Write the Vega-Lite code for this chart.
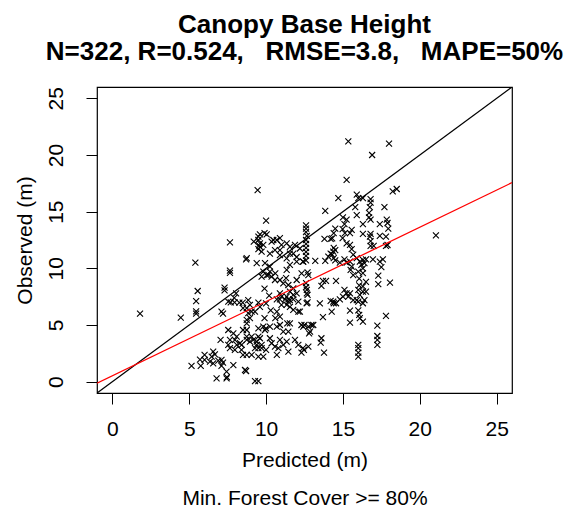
{
"$schema": "https://vega.github.io/schema/vega-lite/v6.json",
"width": 415, "height": 306,
"autosize": {"type": "none"},
"padding": {"left": 97, "top": 87, "right": 62, "bottom": 119},
"background": "white",
"config": {"font": "Liberation Sans", "view": {"stroke": "#000", "strokeWidth": 1.2}},
"title": {"text": ["Canopy Base Height", "N=322, R=0.524,\u00a0\u00a0\u00a0RMSE=3.8,\u00a0\u00a0\u00a0MAPE=50%"], "fontSize": 26, "fontWeight": "bold", "font": "Liberation Sans", "color": "#000", "lineHeight": 27, "anchor": "middle", "baseline": "bottom", "offset": -4},
"datasets": {
"pts": [
{"pred":1.8,"obs":6.0},{"pred":4.45,"obs":5.65},{"pred":5.4,"obs":10.5},{"pred":5.55,"obs":8.0},{"pred":5.45,"obs":7.1},{"pred":5.45,"obs":6.2},{"pred":5.45,"obs":6.0},
{"pred":5.15,"obs":1.4},{"pred":5.75,"obs":1.4},{"pred":6.0,"obs":2.36},{"pred":6.0,"obs":1.92},{"pred":5.7,"obs":1.95},{"pred":6.35,"obs":1.77},{"pred":6.46,"obs":2.2},{"pred":6.56,"obs":2.65},{"pred":6.67,"obs":2.4},{"pred":6.89,"obs":1.85},{"pred":7.1,"obs":1.92},{"pred":7.2,"obs":1.68},{"pred":6.56,"obs":1.62},{"pred":7.1,"obs":1.4},{"pred":7.87,"obs":1.45},{"pred":6.78,"obs":0.3},{"pred":7.43,"obs":0.3},{"pred":7.45,"obs":0.4},{"pred":7.43,"obs":0.88},{"pred":8.63,"obs":1.03},{"pred":8.7,"obs":0.94},{"pred":9.28,"obs":0.05},{"pred":9.5,"obs":0.05},
{"pred":7.65,"obs":12.3},{"pred":8.7,"obs":10.8},{"pred":7.65,"obs":9.8},{"pred":7.65,"obs":9.6},{"pred":7.3,"obs":8.3},{"pred":7.3,"obs":8.05},{"pred":8.05,"obs":7.8},{"pred":7.93,"obs":7.4},{"pred":7.1,"obs":6.18},{"pred":7.2,"obs":6.0},{"pred":7.54,"obs":7.06},{"pred":7.7,"obs":7.0},{"pred":7.95,"obs":7.0},{"pred":8.26,"obs":6.97},{"pred":8.48,"obs":6.97},{"pred":8.74,"obs":6.48},{"pred":8.84,"obs":6.04},{"pred":8.95,"obs":5.6},{"pred":8.74,"obs":5.45},{"pred":8.5,"obs":6.48},{"pred":8.84,"obs":7.2},{"pred":8.95,"obs":6.77},
{"pred":7.54,"obs":4.56},{"pred":7.87,"obs":4.27},{"pred":7.04,"obs":3.68},{"pred":7.65,"obs":3.68},{"pred":7.97,"obs":3.68},{"pred":8.3,"obs":3.39},{"pred":8.74,"obs":3.68},{"pred":7.65,"obs":2.95},{"pred":7.97,"obs":2.8},{"pred":8.4,"obs":2.8},{"pred":8.5,"obs":2.36},{"pred":8.74,"obs":2.36},{"pred":9.06,"obs":2.36},{"pred":9.5,"obs":2.2},{"pred":9.82,"obs":2.2},{"pred":10.0,"obs":2.8},{"pred":8.74,"obs":3.97},{"pred":9.06,"obs":3.97},{"pred":9.5,"obs":3.97},{"pred":8.09,"obs":3.97},{"pred":8.5,"obs":4.56},{"pred":8.74,"obs":5.15},{"pred":8.74,"obs":4.56},{"pred":8.95,"obs":3.53},{"pred":9.17,"obs":3.68},{"pred":9.82,"obs":4.85},{"pred":9.93,"obs":4.56},{"pred":9.39,"obs":3.24},{"pred":9.71,"obs":2.95},{"pred":7.54,"obs":3.24},{"pred":8.09,"obs":3.24},{"pred":8.41,"obs":3.24},
{"pred":9.5,"obs":4.71},{"pred":10.0,"obs":4.71},{"pred":9.6,"obs":3.83},{"pred":9.39,"obs":3.53},{"pred":9.71,"obs":3.24},{"pred":9.5,"obs":2.95},{"pred":9.28,"obs":2.95},{"pred":10.25,"obs":3.83},{"pred":10.36,"obs":3.39},{"pred":10.58,"obs":3.09},{"pred":10.9,"obs":3.68},{"pred":11.12,"obs":4.41},{"pred":11.45,"obs":4.41},{"pred":11.88,"obs":3.68},{"pred":12.1,"obs":3.24},{"pred":11.12,"obs":3.24},{"pred":11.45,"obs":2.65},{"pred":11.34,"obs":3.53},{"pred":10.8,"obs":2.95},{"pred":10.7,"obs":2.36},{"pred":10.25,"obs":4.85},{"pred":10.7,"obs":4.85},{"pred":10.9,"obs":5.0},{"pred":11.38,"obs":5.15},{"pred":11.55,"obs":5.15},
{"pred":9.5,"obs":6.97},{"pred":9.6,"obs":6.6},{"pred":9.28,"obs":6.18},{"pred":9.06,"obs":6.18},{"pred":10.7,"obs":7.27},{"pred":10.9,"obs":7.27},{"pred":11.23,"obs":7.27},{"pred":11.45,"obs":7.27},{"pred":11.77,"obs":7.27},{"pred":11.0,"obs":6.77},{"pred":11.34,"obs":6.77},{"pred":11.55,"obs":6.6},{"pred":10.7,"obs":6.18},{"pred":10.9,"obs":5.74},{"pred":10.6,"obs":5.6},{"pred":11.77,"obs":6.33},{"pred":12.1,"obs":6.18},{"pred":10.9,"obs":7.8},{"pred":11.0,"obs":7.5},{"pred":11.34,"obs":7.5},{"pred":11.45,"obs":7.06},{"pred":11.77,"obs":7.65},{"pred":11.99,"obs":7.8},{"pred":11.55,"obs":7.2},{"pred":12.1,"obs":7.06},{"pred":11.3,"obs":9.13},{"pred":11.45,"obs":8.53},{"pred":10.58,"obs":8.97},{"pred":10.9,"obs":8.97},{"pred":11.12,"obs":8.68},{"pred":11.77,"obs":8.24},{"pred":11.55,"obs":7.94},{"pred":11.99,"obs":8.97},{"pred":12.31,"obs":9.56},{"pred":9.9,"obs":8.2},{"pred":10.2,"obs":7.6},{"pred":10.0,"obs":6.9},{"pred":10.3,"obs":6.3},{"pred":9.9,"obs":5.6},
{"pred":9.45,"obs":16.9},{"pred":10.0,"obs":14.2},{"pred":9.6,"obs":13.0},{"pred":10.04,"obs":13.0},{"pred":9.2,"obs":12.36},{"pred":8.74,"obs":10.9},{"pred":9.9,"obs":13.1},{"pred":9.6,"obs":12.2},{"pred":9.82,"obs":12.07},{"pred":10.36,"obs":12.36},{"pred":10.7,"obs":12.5},{"pred":11.0,"obs":12.07},{"pred":11.34,"obs":12.2},{"pred":11.55,"obs":11.9},{"pred":9.71,"obs":11.47},{"pred":10.25,"obs":11.3},{"pred":10.58,"obs":11.6},{"pred":10.9,"obs":11.16},{"pred":11.34,"obs":10.87},{"pred":11.77,"obs":11.3},{"pred":12.2,"obs":11.75},{"pred":9.39,"obs":10.45},{"pred":9.93,"obs":10.45},{"pred":10.25,"obs":10.15},{"pred":9.82,"obs":9.7},{"pred":9.71,"obs":9.27},{"pred":11.34,"obs":9.86},{"pred":11.55,"obs":10.3},{"pred":11.99,"obs":10.6},{"pred":12.42,"obs":10.6},{"pred":10.25,"obs":9.7},{"pred":10.6,"obs":9.56},{"pred":10.04,"obs":9.4},{"pred":10.47,"obs":12.5},{"pred":10.9,"obs":12.66},{"pred":11.88,"obs":12.07},{"pred":10.9,"obs":11.6},{"pred":11.55,"obs":11.3},{"pred":11.99,"obs":11.0},{"pred":9.5,"obs":12.8},{"pred":9.5,"obs":12.5},{"pred":9.55,"obs":12.0},{"pred":9.5,"obs":11.7},{"pred":9.6,"obs":11.9},{"pred":10.15,"obs":9.42},{"pred":10.36,"obs":9.27},
{"pred":12.6,"obs":13.8},{"pred":12.6,"obs":13.5},{"pred":12.6,"obs":13.2},{"pred":12.65,"obs":12.86},{"pred":12.6,"obs":12.5},{"pred":12.6,"obs":12.15},{"pred":12.6,"obs":11.8},{"pred":12.6,"obs":11.45},{"pred":12.6,"obs":11.1},{"pred":12.6,"obs":10.7},{"pred":12.4,"obs":10.6},{"pred":12.7,"obs":9.65},{"pred":12.75,"obs":9.4},{"pred":12.6,"obs":8.7},{"pred":12.6,"obs":8.33},{"pred":12.65,"obs":8.1},{"pred":12.65,"obs":7.8},{"pred":12.7,"obs":7.65},{"pred":12.7,"obs":7.0},{"pred":12.64,"obs":6.92},{"pred":12.2,"obs":6.18},{"pred":12.5,"obs":5.0},{"pred":12.42,"obs":4.85},{"pred":12.4,"obs":2.95},{"pred":12.3,"obs":2.56},{"pred":12.46,"obs":2.8},{"pred":12.75,"obs":3.09},{"pred":12.95,"obs":5.0},{"pred":13.07,"obs":5.0},{"pred":12.8,"obs":4.27},{"pred":12.3,"obs":5.0},{"pred":12.86,"obs":4.41},{"pred":12.75,"obs":4.85},
{"pred":13.85,"obs":15.07},{"pred":14.7,"obs":16.2},{"pred":15.24,"obs":17.8},{"pred":15.35,"obs":21.2},{"pred":15.9,"obs":16.5},{"pred":16.0,"obs":16.2},{"pred":16.3,"obs":16.2},{"pred":16.8,"obs":16.1},{"pred":16.8,"obs":15.8},{"pred":16.75,"obs":15.4},
{"pred":15.8,"obs":15.4},{"pred":17.7,"obs":15.4},{"pred":15.9,"obs":14.7},{"pred":16.7,"obs":14.9},{"pred":16.7,"obs":14.5},{"pred":16.8,"obs":14.3},{"pred":15.0,"obs":14.5},{"pred":15.24,"obs":14.3},{"pred":15.1,"obs":13.9},{"pred":16.3,"obs":13.9},
{"pred":17.4,"obs":13.9},{"pred":17.85,"obs":14.3},{"pred":17.9,"obs":14.0},{"pred":17.95,"obs":13.5},{"pred":14.5,"obs":13.5},{"pred":14.4,"obs":13.1},{"pred":14.3,"obs":12.65},{"pred":14.2,"obs":12.6},{"pred":13.8,"obs":12.6},{"pred":14.98,"obs":13.45},
{"pred":15.13,"obs":13.1},{"pred":14.98,"obs":12.66},{"pred":15.24,"obs":12.2},{"pred":15.46,"obs":12.07},{"pred":15.57,"obs":11.7},{"pred":15.67,"obs":11.2},{"pred":15.57,"obs":13.4},{"pred":15.46,"obs":13.1},{"pred":16.3,"obs":13.05},{"pred":16.8,"obs":13.05},
{"pred":16.76,"obs":12.8},{"pred":16.8,"obs":12.4},{"pred":16.8,"obs":11.98},{"pred":17.4,"obs":12.86},{"pred":17.8,"obs":12.8},{"pred":17.9,"obs":12.06},{"pred":17.8,"obs":11.98},{"pred":17.0,"obs":11.98},{"pred":14.4,"obs":11.8},{"pred":14.5,"obs":11.6},
{"pred":14.2,"obs":11.3},{"pred":14.3,"obs":11.2},{"pred":17.6,"obs":10.8},{"pred":16.95,"obs":10.8},{"pred":15.1,"obs":10.8},{"pred":14.4,"obs":10.9},{"pred":13.2,"obs":10.65},{"pred":13.85,"obs":10.65},{"pred":14.05,"obs":11.03},{"pred":14.37,"obs":11.47},
{"pred":14.5,"obs":10.7},{"pred":14.8,"obs":10.5},{"pred":15.46,"obs":10.6},{"pred":15.57,"obs":10.15},{"pred":15.5,"obs":9.86},{"pred":15.67,"obs":9.4},{"pred":16.1,"obs":10.6},{"pred":16.2,"obs":10.3},{"pred":16.4,"obs":10.45},{"pred":16.3,"obs":10.0},
{"pred":16.3,"obs":9.57},{"pred":16.0,"obs":9.7},{"pred":17.4,"obs":10.6},{"pred":17.5,"obs":10.1},{"pred":17.3,"obs":9.36},{"pred":17.3,"obs":8.6},{"pred":18.06,"obs":8.74},{"pred":13.7,"obs":8.9},{"pred":13.9,"obs":8.9},{"pred":13.6,"obs":8.45},
{"pred":14.55,"obs":8.9},{"pred":13.5,"obs":6.9},{"pred":13.7,"obs":5.7},{"pred":14.27,"obs":6.18},{"pred":15.46,"obs":6.27},{"pred":16.0,"obs":6.3},{"pred":16.06,"obs":5.9},{"pred":16.1,"obs":5.6},{"pred":16.3,"obs":5.3},{"pred":15.46,"obs":5.2},
{"pred":17.8,"obs":5.8},{"pred":17.24,"obs":4.94},{"pred":17.24,"obs":4.03},{"pred":17.24,"obs":3.68},{"pred":17.24,"obs":3.24},{"pred":13.6,"obs":3.83},{"pred":13.55,"obs":3.44},{"pred":13.77,"obs":2.56},{"pred":16.0,"obs":3.24},{"pred":16.0,"obs":2.95},
{"pred":16.0,"obs":2.56},{"pred":16.0,"obs":2.2},{"pred":14.37,"obs":7.06},{"pred":14.2,"obs":7.12},{"pred":14.4,"obs":6.92},{"pred":14.55,"obs":6.92},{"pred":14.8,"obs":7.27},{"pred":15.0,"obs":7.5},{"pred":15.24,"obs":7.8},{"pred":15.1,"obs":8.1},
{"pred":15.46,"obs":7.8},{"pred":15.35,"obs":7.5},{"pred":15.67,"obs":7.2},{"pred":15.9,"obs":7.2},{"pred":16.1,"obs":7.65},{"pred":16.3,"obs":7.94},{"pred":16.5,"obs":7.94},{"pred":16.0,"obs":8.1},{"pred":16.4,"obs":7.2},{"pred":16.3,"obs":6.92},
{"pred":16.0,"obs":7.06},{"pred":15.24,"obs":10.5},{"pred":15.9,"obs":10.9},{"pred":16.3,"obs":10.75},{"pred":16.5,"obs":10.8},{"pred":16.06,"obs":9.1},{"pred":16.5,"obs":8.8},{"pred":16.3,"obs":8.4},{"pred":16.06,"obs":8.5},
{"pred":18.24,"obs":16.8},{"pred":18.5,"obs":17.0},{"pred":18.0,"obs":21.0},{"pred":16.9,"obs":20.0},{"pred":21.05,"obs":12.9}
],
"identity": [{"pred": -1, "obs": -1}, {"pred": 26, "obs": 26}],
"fit": [{"pred": -1, "obs": -0.14}, {"pred": 26, "obs": 17.56}]
},
"layer": [
{
"data": {"name": "pts"},
"mark": {"type": "point", "shape": "M-1,-1L1,1M-1,1L1,-1", "size": 36, "stroke": "#000", "strokeWidth": 1.1, "filled": false, "opacity": 1, "clip": true},
"encoding": {
"x": {"field": "pred", "type": "quantitative", "scale": {"domain": [-1, 26], "nice": false, "zero": false},
"axis": {"values": [0, 5, 10, 15, 20, 25], "domain": false, "grid": false, "ticks": true, "tickSize": 11, "tickColor": "#000", "tickWidth": 1, "labelFontSize": 21, "labelColor": "#000", "labelPadding": 14, "labelFont": "Liberation Sans", "title": ["Predicted (m)", "Min. Forest Cover >= 80%"], "titleFont": "Liberation Sans", "titleFontSize": 21, "titleFontWeight": "normal", "titleColor": "#000", "titleLineHeight": 38, "titlePadding": 10}},
"y": {"field": "obs", "type": "quantitative", "scale": {"domain": [-1, 26], "nice": false, "zero": false},
"axis": {"values": [0, 5, 10, 15, 20, 25], "domain": false, "grid": false, "ticks": true, "tickSize": 11, "tickColor": "#000", "tickWidth": 1, "labelFontSize": 21, "labelColor": "#000", "labelAngle": 270, "labelAlign": "center", "labelBaseline": "alphabetic", "labelPadding": 24, "labelFont": "Liberation Sans", "title": "Observed (m)", "titleFont": "Liberation Sans", "titleFontSize": 21, "titleFontWeight": "normal", "titleColor": "#000", "titleBaseline": "alphabetic", "titlePadding": 14}}
}
},
{
"data": {"name": "identity"},
"mark": {"type": "line", "color": "#000", "strokeWidth": 1.3, "clip": true},
"encoding": {"x": {"field": "pred", "type": "quantitative"}, "y": {"field": "obs", "type": "quantitative"}}
},
{
"data": {"name": "fit"},
"mark": {"type": "line", "color": "#ff0000", "strokeWidth": 1.3, "clip": true},
"encoding": {"x": {"field": "pred", "type": "quantitative"}, "y": {"field": "obs", "type": "quantitative"}}
}
]
}
